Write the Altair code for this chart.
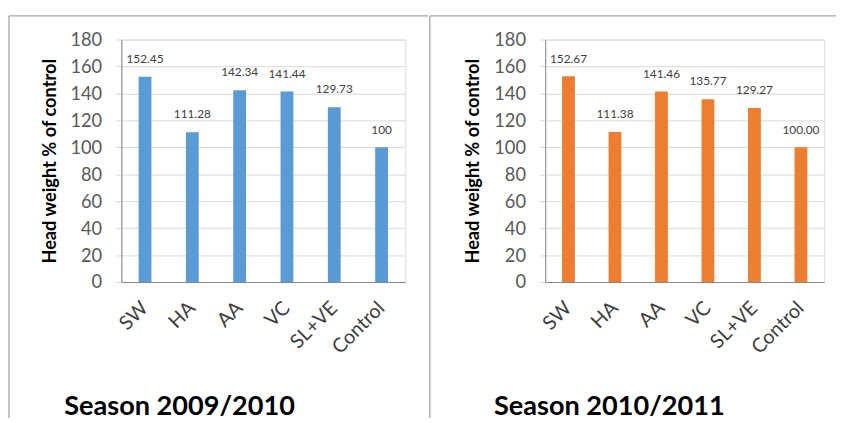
import altair as alt
import pandas as pd

categories = ["SW", "HA", "AA", "VC", "SL+VE", "Control"]
season1_values = [152.45, 111.28, 142.34, 141.44, 129.73, 100]
season1_labels = ["152.45", "111.28", "142.34", "141.44", "129.73", "100"]
season2_values = [152.67, 111.38, 141.46, 135.77, 129.27, 100.00]
season2_labels = ["152.67", "111.38", "141.46", "135.77", "129.27", "100.00"]
season_titles = ["Season 2009/2010", "Season 2010/2011"]
y_ticks = [0, 20, 40, 60, 80, 100, 120, 140, 160, 180]
y_title = "Head weight % of control"

FONT = "Lato"
H = 246
BORDER = "#8c8c8c"


def panel(values, labels, color, width, title, left_edge, right_edge, title_x):
    df = pd.DataFrame({"cat": categories, "val": values, "lab": labels})
    base = alt.Chart(df)
    x = alt.X(
        "cat:N",
        sort=categories,
        title=None,
        scale=alt.Scale(paddingInner=0, paddingOuter=0),
        axis=alt.Axis(
            labelAngle=-45,
            labelAlign="right",
            labelBaseline="middle",
            labelFontSize=20,
            labelColor="#404040",
            labelFont=FONT,
            labelPadding=23,
            ticks=False,
            domainColor="#868686",
            grid=False,
        ),
    )
    y = alt.Y(
        "val:Q",
        scale=alt.Scale(domain=[0, 180], nice=False),
        axis=alt.Axis(
            values=y_ticks,
            grid=True,
            gridColor="#d9d9d9",
            domainColor="#868686",
            tickColor="#d9d9d9",
            tickSize=6,
            labelFontSize=18.5,
            labelColor="#595959",
            labelFont=FONT,
            labelPadding=14,
            title=y_title,
            titleFont=FONT,
            titleFontSize=18.5,
            titleFontWeight="bold",
            titleColor="black",
            titlePadding=11,
        ),
    )
    bars = base.mark_bar(size=13, color=color).encode(x=x, y=y)
    texts = base.mark_text(
        dy=-18, fontSize=12, color="#404040", font=FONT, baseline="middle"
    ).encode(x=x, y=y, text="lab:N")

    one = alt.Data(values=[{"t": title}])
    vline = alt.Chart(one).mark_rule(color=BORDER, strokeWidth=1).encode(
        x=alt.value(left_edge), y=alt.value(-24), y2=alt.value(384)
    )
    hline = alt.Chart(one).mark_rule(color=BORDER, strokeWidth=1).encode(
        y=alt.value(-24), x=alt.value(left_edge), x2=alt.value(right_edge)
    )
    season = alt.Chart(one).mark_text(
        align="left", baseline="alphabetic", fontSize=27.5, fontWeight="bold",
        font=FONT, color="black"
    ).encode(x=alt.value(title_x), y=alt.value(381), text="t:N")

    return alt.layer(vline, hline, bars, texts, season).properties(width=width, height=H)


left = panel(season1_values, season1_labels, "#5b9bd5", 288, season_titles[0], -114, 311, -58)
right = panel(season2_values, season2_labels, "#ed7d31", 283, season_titles[1], -117, 295, -52)

chart = (
    alt.hconcat(left, right, spacing=0)
    .properties(padding={"left": 0, "top": 4, "right": 0, "bottom": 0})
    .configure_view(stroke=None)
    .configure(font=FONT)
)

chart.save("out.html", embed_options={"renderer": "svg", "actions": False})
